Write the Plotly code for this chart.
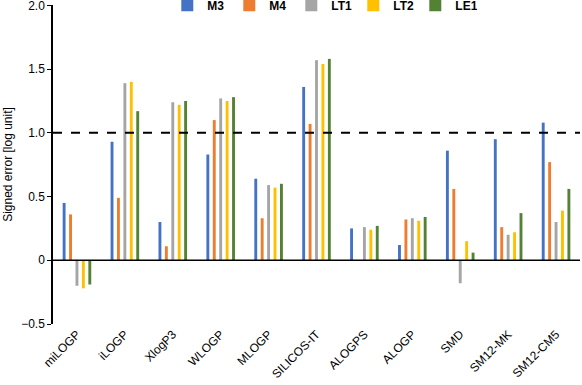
import plotly.graph_objects as go

categories = ["miLOGP", "iLOGP", "XlogP3", "WLOGP", "MLOGP", "SILICOS-IT",
              "ALOGPS", "ALOGP", "SMD", "SM12-MK", "SM12-CM5"]
M3 = [0.45, 0.93, 0.30, 0.83, 0.64, 1.36, 0.25, 0.12, 0.86, 0.95, 1.08]
M4 = [0.36, 0.49, 0.11, 1.10, 0.33, 1.07, None, 0.32, 0.56, 0.26, 0.77]
LT1 = [-0.20, 1.39, 1.24, 1.27, 0.59, 1.57, 0.26, 0.33, -0.18, 0.20, 0.30]
LT2 = [-0.22, 1.40, 1.22, 1.25, 0.57, 1.54, 0.24, 0.31, 0.15, 0.22, 0.39]
LE1 = [-0.19, 1.17, 1.25, 1.28, 0.60, 1.58, 0.27, 0.34, 0.06, 0.37, 0.56]
series = [("M3", M3, "#4472C4"), ("M4", M4, "#ED7D31"), ("LT1", LT1, "#A5A5A5"),
          ("LT2", LT2, "#FFC000"), ("LE1", LE1, "#548235")]
threshold = 1.0
yticks = [-0.5, 0, 0.5, 1.0, 1.5, 2.0]
yticklabels = ["\u22120.5", "0", "0.5", "1.0", "1.5", "2.0"]

fig = go.Figure()
for name, vals, col in series:
    fig.add_bar(x=categories, y=vals, name=name, marker_color=col,
                marker_line_width=0)

fig.add_hline(y=threshold, line=dict(color="black", width=2, dash="dash"))
fig.add_hline(y=0, line=dict(color="black", width=1.5))

fig.update_layout(
    width=582, height=385,
    margin=dict(l=53, r=2, t=5, b=61, autoexpand=False),
    paper_bgcolor="white", plot_bgcolor="white",
    font=dict(family="Liberation Sans, Arial, sans-serif", size=12, color="black"),
    barmode="group", bargap=0.33, bargroupgap=0.55,
    showlegend=True,
    legend=dict(orientation="h", x=0.511, xanchor="center", y=1.045, yanchor="top",
                font=dict(size=12, family="Liberation Sans, Arial, sans-serif", weight="bold"),
                entrywidth=17, itemwidth=30, bgcolor="rgba(0,0,0,0)"),
    xaxis=dict(showline=False, ticks="", tickangle=-45, showgrid=False,
               zeroline=False, tickfont=dict(size=12), automargin=False),
    yaxis=dict(range=[-0.5, 2.003], tickvals=yticks, ticktext=yticklabels,
               showline=True, linecolor="black", linewidth=1.5, ticks="outside",
               ticklen=4, tickcolor="black", showgrid=False, zeroline=False,
               automargin=False, ticklabeloverflow="allow",
               title=dict(text="Signed error [log unit]", font=dict(size=12), standoff=6),
               tickfont=dict(size=12)),
)
fig.write_html("out.html", config={"displayModeBar": False},
               post_script="document.body.style.margin='0';document.body.style.overflow='hidden';")
